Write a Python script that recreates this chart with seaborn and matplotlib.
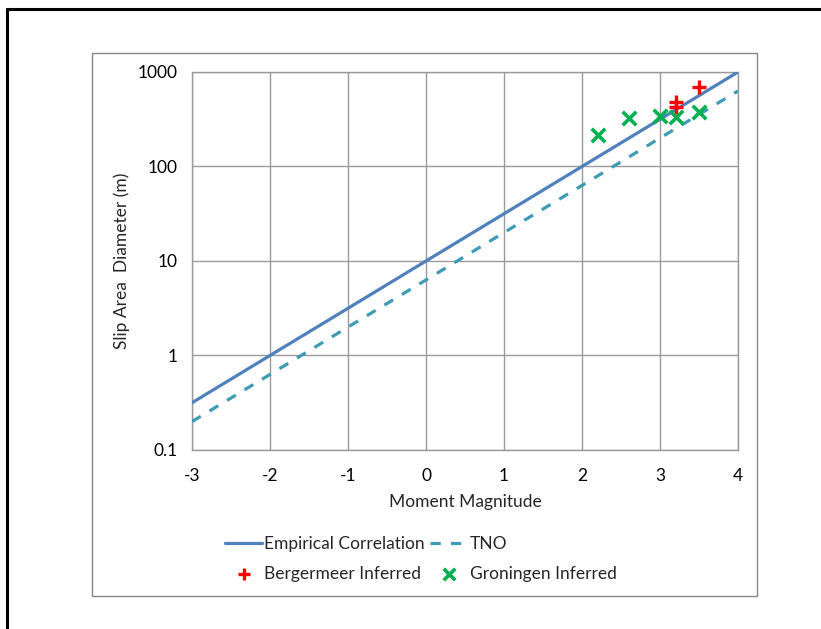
import matplotlib
matplotlib.use("Agg")
import matplotlib.pyplot as plt
from matplotlib.patches import Rectangle
from matplotlib.lines import Line2D
from matplotlib.ticker import FixedLocator, FixedFormatter, NullLocator
import seaborn as sns
import pandas as pd

# Correlation lines (slip area diameter vs moment magnitude)
magnitude = [-3, -2, -1, 0, 1, 2, 3, 4]
empirical_diameter = [0.316, 1.0, 3.16, 10.0, 31.6, 100.0, 316.0, 1000.0]
tno_diameter = [0.2, 0.63, 2.0, 6.3, 20.0, 63.0, 200.0, 630.0]

# Inferred events
bergermeer_mag = [3.2, 3.2, 3.5]
bergermeer_diam = [480, 430, 700]
groningen_mag = [2.2, 2.6, 3.0, 3.2, 3.5]
groningen_diam = [215, 325, 340, 335, 380]

x_ticks = [-3, -2, -1, 0, 1, 2, 3, 4]
x_tick_labels = ["-3", "-2", "-1", "0", "1", "2", "3", "4"]
y_ticks = [0.1, 1, 10, 100, 1000]
y_tick_labels = ["0.1", "1", "10", "100", "1000"]

sns.set_style("white")
plt.rcParams["font.family"] = ["Lato", "DejaVu Sans"]
plt.rcParams["axes.unicode_minus"] = False

FS = 12.5
W, H = 821, 629
fig = plt.figure(figsize=(W / 100, H / 100), dpi=100)


def fx(px):
    return px / W


def fy(py):
    return 1 - py / H


ax = fig.add_axes([fx(192), fy(450), (738 - 192) / W, (450 - 72) / H])

lines_df = pd.DataFrame({
    "mag": magnitude,
    "emp": empirical_diameter,
    "tno": tno_diameter,
})
berg_df = pd.DataFrame({"mag": bergermeer_mag, "diam": bergermeer_diam})
gron_df = pd.DataFrame({"mag": groningen_mag, "diam": groningen_diam})

blue = "#4F81BD"
teal = "#3E9BB5"
grid_col = "#9A9A9A"

sns.lineplot(data=lines_df, x="mag", y="emp", ax=ax, color=blue, linewidth=2.3,
             label="Empirical Correlation", zorder=3)
sns.lineplot(data=lines_df, x="mag", y="tno", ax=ax, color=teal, linewidth=2.3,
             linestyle=(0, (3.2, 3.2)), label="TNO", zorder=3)
sns.scatterplot(data=berg_df, x="mag", y="diam", ax=ax, marker="+", color="#FF0000",
                s=110, linewidth=2.4, label="Bergermeer Inferred", zorder=4)
sns.scatterplot(data=gron_df, x="mag", y="diam", ax=ax, marker="x", color="#00B050",
                s=95, linewidth=2.6, label="Groningen Inferred", zorder=4)

ax.set_yscale("log")
ax.set_xlim(-3, 4)
ax.set_ylim(0.1, 1000)
ax.xaxis.set_major_locator(FixedLocator(x_ticks))
ax.xaxis.set_major_formatter(FixedFormatter(x_tick_labels))
ax.yaxis.set_major_locator(FixedLocator(y_ticks))
ax.yaxis.set_major_formatter(FixedFormatter(y_tick_labels))
ax.yaxis.set_minor_locator(NullLocator())
ax.grid(True, which="major", color=grid_col, linewidth=1.0)
ax.set_axisbelow(True)
for s in ax.spines.values():
    s.set_color(grid_col)
    s.set_linewidth(1.0)
ax.tick_params(axis="both", length=0, labelsize=FS, colors="black")
ax.tick_params(axis="y", pad=10.5)
ax.tick_params(axis="x", pad=13)

ax.set_xlabel("Moment Magnitude", fontsize=FS, labelpad=7)
ax.set_ylabel("Slip Area  Diameter (m)", fontsize=FS, labelpad=5)

handles, labels = ax.get_legend_handles_labels()
ax.get_legend().remove()
order = [0, 2, 1, 3]
fig.legend([handles[i] for i in order], [labels[i] for i in order],
           ncol=2, loc="upper left", bbox_to_anchor=(fx(225), fy(536)),
           frameon=False, fontsize=FS, borderpad=0, borderaxespad=0,
           handlelength=2.15, handletextpad=0.12, columnspacing=0.3,
           labelspacing=0.8, markerscale=0.85)

# chart area box and outer frame
fig.add_artist(Rectangle((fx(92), fy(596)), (757 - 92) / W, (596 - 53) / H,
                         transform=fig.transFigure, fill=False,
                         edgecolor="#868686", linewidth=1.0))
fig.add_artist(Line2D([fx(7), fx(7)], [fy(9), 0], transform=fig.transFigure,
                      color="black", linewidth=2.2))
fig.add_artist(Line2D([fx(7), 1], [fy(9), fy(9)], transform=fig.transFigure,
                      color="black", linewidth=2.2))

fig.savefig("out.png", dpi=100)
